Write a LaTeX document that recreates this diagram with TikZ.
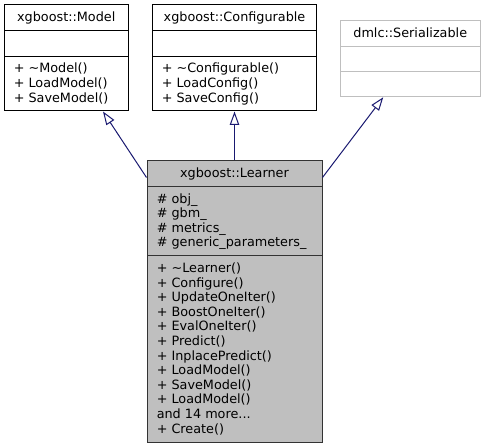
\documentclass[tikz,border=0pt]{standalone}
\usepackage{fontspec}
\setmainfont{DejaVu Sans}
\usetikzlibrary{fit,calc,arrows.meta}
\definecolor{edgeblue}{HTML}{191970}
\definecolor{greyfill}{HTML}{BFBFBF}
\definecolor{greyline}{HTML}{BFBFBF}
\tikzset{
  box/.style={draw=black, line width=0.75pt, inner sep=0pt, fill=white},
  curbox/.style={draw=black!80, line width=0.75pt, inner sep=0pt, fill=greyfill},
  extbox/.style={draw=greyline, line width=0.75pt, inner sep=0pt, fill=white},
  divider/.style={line width=0.75pt},
  ln/.style={inner sep=0pt, anchor=base west, font=\fontsize{9.6}{11}\selectfont},
  hd/.style={inner sep=0pt, anchor=base, font=\fontsize{9.6}{11}\selectfont},
  inherit/.style={draw=edgeblue, line width=0.75pt, line join=miter,
    -{Triangle[open, length=10pt, width=7pt, line width=0.75pt]}},
}
\begin{document}
\begin{tikzpicture}[x=0.75pt, y=-0.75pt]
\useasboundingbox (0,0) rectangle (485,448);

% ---------- xgboost::Model ----------
\node[box, fit={(4.5,5) (128,111)}] (model) {};
\draw[divider] (4.5,30.6) -- (128,30.6);
\draw[divider] (4.5,56.2) -- (128,56.2);
\node[hd] (mh) at (66.25,21.8) {xgboost::Model};
\node[ln] (m1) at (13.5,73.0) {+ \textasciitilde Model()};
\node[ln] (m2) at (13.5,87.6) {+ LoadModel()};
\node[ln] (m3) at (13.5,102.2) {+ SaveModel()};

% ---------- xgboost::Configurable ----------
\node[box, fit={(152.5,5) (316.5,111)}] (conf) {};
\draw[divider] (152.5,30.6) -- (316.5,30.6);
\draw[divider] (152.5,56.2) -- (316.5,56.2);
\node[hd] (ch) at (234.5,21.8) {xgboost::Configurable};
\node[ln] (c1) at (161.5,73.0) {+ \textasciitilde Configurable()};
\node[ln] (c2) at (161.5,87.6) {+ LoadConfig()};
\node[ln] (c3) at (161.5,102.2) {+ SaveConfig()};

% ---------- dmlc::Serializable ----------
\node[extbox, fit={(340.5,20.7) (480,96.8)}] (ser) {};
\draw[divider, greyline] (340.5,46.2) -- (480,46.2);
\draw[divider, greyline] (340.5,71.5) -- (480,71.5);
\node[hd] (sh) at (410.25,37.5) {dmlc::Serializable};

% ---------- xgboost::Learner ----------
\node[curbox, fit={(147,161) (322,442)}] (learner) {};
\draw[divider, black!80] (147,186.3) -- (322,186.3);
\draw[divider, black!80] (147,255.7) -- (322,255.7);
\node[hd] (lh) at (234.5,177.8) {xgboost::Learner};
\node[ln] (la1) at (156.5,203.1) {\# obj\_};
\node[ln] (la2) at (156.5,217.7) {\# gbm\_};
\node[ln] (la3) at (156.5,232.3) {\# metrics\_};
\node[ln] (la4) at (156.5,246.9) {\# generic\_parameters\_};
\node[ln] (lm1) at (156.5,272.5) {+ \textasciitilde Learner()};
\node[ln] (lm2) at (156.5,287.1) {+ Configure()};
\node[ln] (lm3) at (156.5,301.7) {+ UpdateOneIter()};
\node[ln] (lm4) at (156.5,316.3) {+ BoostOneIter()};
\node[ln] (lm5) at (156.5,330.9) {+ EvalOneIter()};
\node[ln] (lm6) at (156.5,345.5) {+ Predict()};
\node[ln] (lm7) at (156.5,360.1) {+ InplacePredict()};
\node[ln] (lm8) at (156.5,374.7) {+ LoadModel()};
\node[ln] (lm9) at (156.5,389.3) {+ SaveModel()};
\node[ln] (lm10) at (156.5,403.9) {+ LoadModel()};
\node[ln] (lm11) at (156.5,418.5) {and 14 more...};
\node[ln] (lm12) at (156.5,433.1) {+ Create()};

% ---------- inheritance edges ----------
\draw[inherit] ($(learner.north west)+(0,17)$) -- ($(model.south)+(36.75,0)$);
\draw[inherit] (learner.north) -- (conf.south);
\draw[inherit] ($(learner.north east)+(0,17)$) -- ($(ser.south)+(-27,0)$);
\end{tikzpicture}
\end{document}
